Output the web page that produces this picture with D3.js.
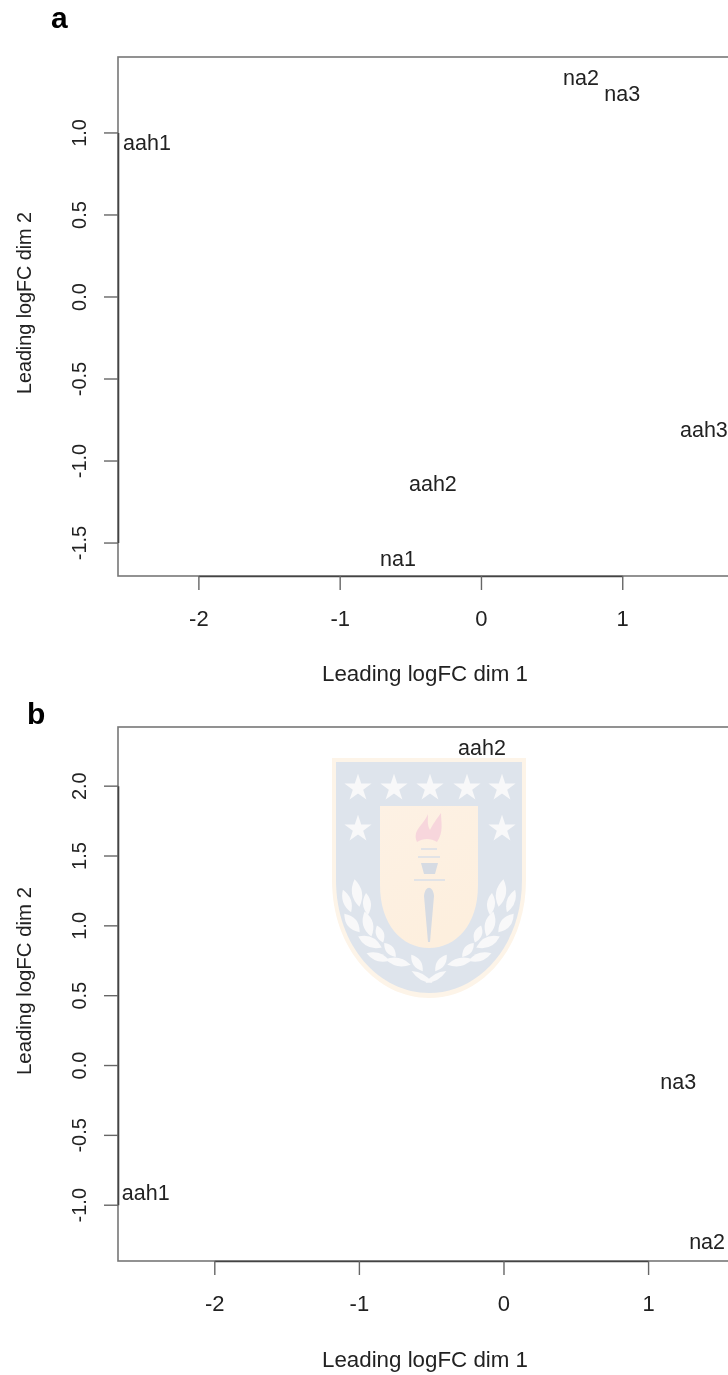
<!DOCTYPE html>
<html>
<head>
<meta charset="utf-8">
<script src="https://cdn.jsdelivr.net/npm/d3@7"></script>
<style>
  html, body { margin: 0; padding: 0; background: #fff; overflow: hidden; }
  svg { filter: blur(0.4px); }
  text { font-family: "Liberation Sans", Arial, sans-serif; fill: #222; }
</style>
</head>
<body>
<div id="chart"></div>
<script type="text/javascript">

// values
var labelsA = ["aah1", "na2", "na3", "aah3", "aah2", "na1"];
var dim1A = [-2.364, 0.708, 1.0, 1.578, -0.34, -0.587];
var dim2A = [0.936, 1.332, 1.235, -0.814, -1.143, -1.6];
var xTicksA = [-2, -1, 0, 1];
var yTicksA = [-1.5, -1, -0.5, 0, 0.5, 1];

var labelsB = ["aah1", "aah2", "na3", "na2"];
var dim1B = [-2.474, -0.149, 1.208, 1.408];
var dim2B = [-0.916, 2.269, -0.122, -1.267];
var xTicksB = [-2, -1, 0, 1];
var yTicksB = [-1, -0.5, 0, 0.5, 1, 1.5, 2];

var svg = d3.select("#chart").append("svg")
  .attr("width", 728)
  .attr("height", 1375)
  .style("display", "block");

// crest sits behind panel b
drawCrest(svg.append("g"));

drawPanel({
  letter: "a", letterX: 51, letterY: 28,
  left: 118, right: 760, top: 57, bottom: 576,
  xDomain: [-2.569, 1.975], yDomain: [-1.704, 1.46],
  labels: labelsA, xs: dim1A, ys: dim2A, xTicks: xTicksA, yTicks: yTicksA,
  xTitleY: 681, yTitleMid: 303, yTitleLen: 182
});

drawPanel({
  letter: "b", letterX: 27, letterY: 724,
  left: 118, right: 760, top: 727, bottom: 1261,
  xDomain: [-2.666, 1.774], yDomain: [-1.403, 2.42],
  labels: labelsB, xs: dim1B, ys: dim2B, xTicks: xTicksB, yTicks: yTicksB,
  xTitleY: 1367, yTitleMid: 981, yTitleLen: 188
});

function drawPanel(p) {
  var x = d3.scaleLinear().domain(p.xDomain).range([p.left, p.right]);
  var y = d3.scaleLinear().domain(p.yDomain).range([p.bottom, p.top]);
  var g = svg.append("g");

  g.append("rect")
    .attr("x", p.left)
    .attr("y", p.top)
    .attr("width", p.right - p.left)
    .attr("height", p.bottom - p.top)
    .attr("fill", "none")
    .attr("stroke", "#777")
    .attr("stroke-width", 1.6);

  // R style axes: the line only runs between the outer ticks
  var xAxisScale = x.copy()
    .domain(d3.extent(p.xTicks))
    .range(d3.extent(p.xTicks).map(x));
  var yAxisScale = y.copy()
    .domain(d3.extent(p.yTicks))
    .range(d3.extent(p.yTicks).map(y));

  // plain hyphens in the tick labels, as R writes them
  var xAxis = g.append("g")
    .attr("transform", "translate(0," + p.bottom + ")")
    .call(d3.axisBottom(xAxisScale)
      .tickValues(p.xTicks)
      .tickSizeInner(14)
      .tickSizeOuter(0)
      .tickPadding(20)
      .tickFormat(function (d) { return String(d); }));

  var yAxis = g.append("g")
    .attr("transform", "translate(" + p.left + ",0)")
    .call(d3.axisLeft(yAxisScale)
      .tickValues(p.yTicks)
      .tickSizeInner(14)
      .tickSizeOuter(0)
      .tickPadding(0)
      .tickFormat(function (d) { return d.toFixed(1); }));

  g.selectAll(".domain").attr("stroke", "#444").attr("stroke-width", 1.6);
  g.selectAll(".tick line").attr("stroke", "#666").attr("stroke-width", 1.4);
  xAxis.selectAll("text")
    .style("font-size", "22px")
    .attr("fill", null);
  yAxis.selectAll("text")
    .style("font-size", "20px")
    .attr("fill", null)
    .attr("x", null)
    .attr("dy", null)
    .attr("text-anchor", "middle")
    .attr("transform", "translate(-32,0) rotate(-90)");

  g.append("text")
    .attr("x", 425)
    .attr("y", p.xTitleY)
    .attr("text-anchor", "middle")
    .attr("textLength", 206)
    .attr("lengthAdjust", "spacingAndGlyphs")
    .style("font-size", "22px")
    .text("Leading logFC dim 1");

  g.append("text")
    .attr("transform", "translate(31," + p.yTitleMid + ") rotate(-90)")
    .attr("text-anchor", "middle")
    .attr("textLength", p.yTitleLen)
    .attr("lengthAdjust", "spacingAndGlyphs")
    .style("font-size", "20px")
    .text("Leading logFC dim 2");

  g.selectAll("text.label")
    .data(p.labels)
    .enter()
    .append("text")
    .attr("class", "label")
    .attr("x", function (d, i) { return x(p.xs[i]); })
    .attr("y", function (d, i) { return y(p.ys[i]); })
    .attr("dy", "0.32em")
    .attr("text-anchor", "middle")
    .style("font-size", "21.5px")
    .text(function (d) { return d; });

  g.append("text")
    .attr("x", p.letterX)
    .attr("y", p.letterY)
    .style("font-size", "30px")
    .style("font-weight", "bold")
    .style("fill", "#000")
    .text(p.letter);
}

// university crest watermark
function drawCrest(g) {
  var shieldOuter = "M332,758H526V880C526,950 480,998 429,998C378,998 332,950 332,880Z";
  var shieldInner = "M336,762H522V880C522,947 478,993 429,993C380,993 336,947 336,880Z";
  var panel = "M380,806H478V885C478,925 456,948 429,948C402,948 380,925 380,885Z";

  var defs = g.append("defs");
  defs.append("filter").attr("id", "soft")
    .append("feGaussianBlur").attr("stdDeviation", 0.6);
  var grad = defs.append("linearGradient").attr("id", "panelFill")
    .attr("x1", 0).attr("y1", 0).attr("x2", 0.4).attr("y2", 1);
  grad.append("stop").attr("offset", 0).attr("stop-color", "#fdf1e4");
  grad.append("stop").attr("offset", 1).attr("stop-color", "#fdefde");

  g.attr("filter", "url(#soft)");
  g.append("path").attr("d", shieldOuter).attr("fill", "#fdf4e8");
  g.append("path").attr("d", shieldInner).attr("fill", "#dee4ec");
  g.append("path").attr("d", panel).attr("fill", "url(#panelFill)");

  var star = d3.symbol().type(d3.symbolStar).size(230);
  [[358, 788], [394, 788], [430, 788], [467, 788], [502, 788], [358, 829], [502, 829]].forEach(function (c) {
    g.append("path")
      .attr("d", star())
      .attr("transform", "translate(" + c[0] + "," + c[1] + ")")
      .attr("fill", "#f8f8f9");
  });

  // flame
  g.append("path")
    .attr("d", "M417,842C412,830 423,826 428,814C428,820 427,825 430,830C433,824 436,820 441,813C441,822 444,832 437,842C431,838 423,838 417,842Z")
    .attr("fill", "#f7d6dc");

  // torch
  var torch = "#e2e3e6";
  g.append("rect").attr("x", 421).attr("y", 848).attr("width", 16).attr("height", 2).attr("fill", torch);
  g.append("rect").attr("x", 418).attr("y", 856).attr("width", 22).attr("height", 2).attr("fill", torch);
  g.append("path").attr("d", "M421,863H438L435,874H424Z").attr("fill", "#d6dbe3");
  g.append("rect").attr("x", 414).attr("y", 879).attr("width", 31).attr("height", 2).attr("fill", torch);
  g.append("path").attr("d", "M424,896C425,885 433,885 434,896L430,942H428Z").attr("fill", "#d6dbe3");

  // laurel leaves on the left, mirrored to the right: x, y, angle, half width, half length
  var leaves = [
    [357, 893, -10, 5, 14], [347, 901, -20, 4, 12], [367, 904, -5, 4, 11],
    [352, 923, -40, 5, 12], [368, 924, -15, 5, 13], [380, 934, -20, 4, 9],
    [370, 942, -65, 5, 13], [390, 950, -40, 4, 9], [378, 957, -72, 4, 12],
    [398, 962, -78, 4, 13], [417, 963, -35, 4, 10], [422, 977, -60, 3, 12]
  ];
  leaves.forEach(function (l) {
    [l[0], 858 - l[0]].forEach(function (cx, i) {
      g.append("path")
        .attr("d", "M0," + (-l[4]) + "Q" + (l[3] * 2) + ",0 0," + l[4] + "Q" + (-l[3] * 2) + ",0 0," + (-l[4]) + "Z")
        .attr("transform", "translate(" + cx + "," + l[1] + ") rotate(" + (i ? -l[2] : l[2]) + ")")
        .attr("fill", "#f8f8f9");
    });
  });
}

</script>
</body>
</html>
